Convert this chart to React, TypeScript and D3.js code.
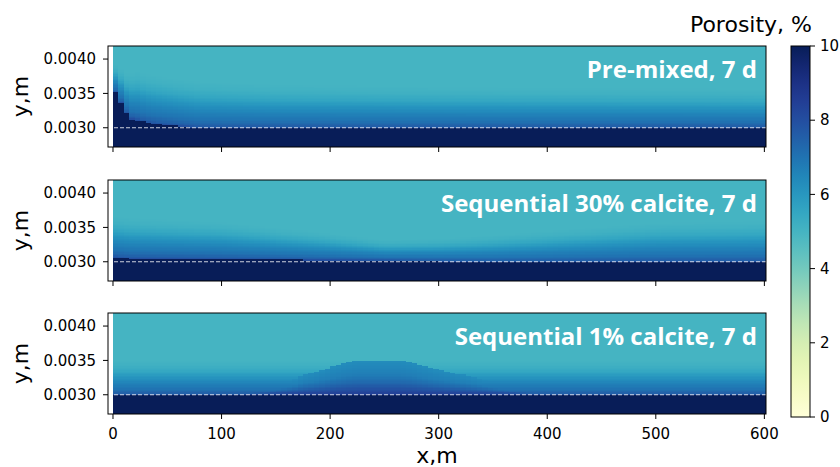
import React, { useRef, useEffect } from 'react';
import * as d3 from 'd3';

// ---- chart data ----
const xTicks = [0, 100, 200, 300, 400, 500, 600];
const yTicks = [0.003, 0.0035, 0.004];
const cbTicks = [0, 2, 4, 6, 8, 10];
const titles = ['Pre-mixed, 7 d', 'Sequential 30% calcite, 7 d', 'Sequential 1% calcite, 7 d'];
const interfaceY = 0.003;

// top of the fully cemented zone (porosity 10 %) along x, per panel
const front1X = [0, 3, 7, 11, 15, 25, 34, 45, 65, 80, 600];
const front1Y = [0.0036, 0.0035, 0.00338, 0.00326, 0.00314, 0.0031, 0.00307, 0.00305, 0.00302, 0.003, 0.003];
const front2X = [0, 15, 100, 250, 350, 600];
const front2Y = [0.00307, 0.00305, 0.00304, 0.00302, 0.003, 0.003];
const front3X = [0, 600];
const front3Y = [0.003, 0.003];

// thickness factor of the transition band above the front, per panel
const band1X = [0, 10, 20, 60, 150, 300, 600];
const band1S = [0.6, 0.9, 1.2, 1.15, 1.05, 1.0, 0.95];
const band2X = [0, 100, 200, 250, 300, 400, 500, 600];
const band2S = [1.0, 0.9, 0.65, 0.5, 0.55, 0.75, 0.95, 1.0];
const band3X = [0, 600];
const band3S = [0.85, 0.85];

// porosity profile vs height above the front
const profileD = [0, 0.00003, 0.0001, 0.0002, 0.0003, 0.0004, 0.0005, 0.0006];
const profileV = [8.0, 7.5, 7.0, 6.6, 6.1, 5.5, 5.15, 5.0];

// raised zone in the 1 % calcite case: its top along x ...
const bumpX = [0, 110, 126, 145, 155, 166, 175, 186, 194, 206, 215, 224, 264, 275, 286, 295, 310, 330, 351, 377, 400, 410, 600];
const bumpY = [0.003, 0.003, 0.00309, 0.00314, 0.00319, 0.00323, 0.00329, 0.00333, 0.00337, 0.00343, 0.00347, 0.0035, 0.0035, 0.00347, 0.00342, 0.00338, 0.00333, 0.00327, 0.0032, 0.00311, 0.00303, 0.003, 0.003];
// ... and its porosity vs relative height inside it
const bumpU = [0, 0.15, 0.35, 0.6, 1];
const bumpV = [8.6, 8.0, 7.3, 6.7, 6.3];

// ---- layout ----
const W = 840, H = 467;
const left = 108, right = 766;
const panelTops = [46, 180, 313];
const panelH = 101;
const cb = { x: 791, w: 19, top: 46, bottom: 417 };

const lin = (xs: number[], ys: number[]) => d3.scaleLinear().domain(xs).range(ys).clamp(true);

const panels = [
  { front: lin(front1X, front1Y), band: lin(band1X, band1S), bump: null as any },
  { front: lin(front2X, front2Y), band: lin(band2X, band2S), bump: null as any },
  { front: lin(front3X, front3Y), band: lin(band3X, band3S), bump: lin(bumpX, bumpY) },
];
const profile = lin(profileD, profileV);
const bumpProfile = lin(bumpU, bumpV);

const color = d3.scaleSequential(d3.interpolateYlGnBu).domain([0, 10]);
const xScale = d3.scaleLinear().domain([-4.6, 601.5]).range([left, right]);
const yDomain = [0.00272, 0.00419];

const dx = 5, dy = 0.00002;

function buildCells(p: number) {
  const pan = panels[p];
  const cells: { x0: number; x1: number; y0: number; y1: number; v: number }[] = [];
  for (let x0 = 0; x0 < 602; x0 += dx) {
    const xc = x0 + dx / 2;
    const f = pan.front(xc);
    const s = pan.band(xc);
    const bt = pan.bump ? pan.bump(xc) : f;
    for (let y0 = yDomain[0]; y0 < yDomain[1]; y0 += dy) {
      const yc = y0 + dy / 2;
      let v;
      if (yc <= f) v = 10;
      else {
        v = profile((yc - f) / s);
        if (bt > f + 0.00001 && yc <= bt) v = Math.max(v, bumpProfile((yc - f) / (bt - f)));
      }
      cells.push({ x0, x1: x0 + dx, y0, y1: y0 + dy, v });
    }
  }
  return cells;
}

export default function App() {
  const svgRef = useRef<SVGSVGElement>(null);

  useEffect(() => {
    const svg = d3.select(svgRef.current);
    panelTops.forEach((top, p) => {
      const yScale = d3.scaleLinear().domain(yDomain).range([top + panelH, top]);
      svg.select(`.cells-${p}`)
        .selectAll('rect')
        .data(buildCells(p))
        .join('rect')
        .attr('x', (d: any) => xScale(d.x0))
        .attr('y', (d: any) => yScale(d.y1))
        .attr('width', (d: any) => xScale(d.x1) - xScale(d.x0) + 0.3)
        .attr('height', (d: any) => yScale(d.y0) - yScale(d.y1) + 0.3)
        .attr('fill', (d: any) => color(d.v));
    });
  }, []);

  const tickFont = { fontFamily: 'DejaVu Sans', fontSize: 15, fill: '#000' };
  const cbScale = d3.scaleLinear().domain([0, 10]).range([cb.bottom, cb.top]);
  const gradStops = d3.range(0, 1.0001, 0.05);

  return (
    <svg ref={svgRef} width={W} height={H} style={{ position: 'absolute', left: 0, top: 0 }}>
      <defs>
        {panelTops.map((top, p) => (
          <clipPath id={`clip-${p}`} key={p}>
            <rect x={left} y={top} width={right - left} height={panelH} />
          </clipPath>
        ))}
        <linearGradient id="cbgrad" x1="0" y1="1" x2="0" y2="0">
          {gradStops.map((t) => (
            <stop key={t} offset={t} stopColor={d3.interpolateYlGnBu(t)} />
          ))}
        </linearGradient>
      </defs>
      <rect width={W} height={H} fill="#fff" />
      {panelTops.map((top, p) => {
        const yScale = d3.scaleLinear().domain(yDomain).range([top + panelH, top]);
        return (
          <g key={p}>
            <g className={`cells-${p}`} clipPath={`url(#clip-${p})`} shapeRendering="crispEdges" />
            <line x1={left} x2={right} y1={yScale(interfaceY)} y2={yScale(interfaceY)}
              stroke="#fff" strokeOpacity={0.8} strokeWidth={1} strokeDasharray="4,2" />
            <rect x={left} y={top} width={right - left} height={panelH} fill="none" stroke="#000" strokeWidth={1} />
            {yTicks.map((t) => (
              <g key={t}>
                <line x1={left - 5} x2={left} y1={yScale(t)} y2={yScale(t)} stroke="#000" />
                <text x={left - 12} y={yScale(t)} dy="0.35em" textAnchor="end" {...tickFont}>{t.toFixed(4)}</text>
              </g>
            ))}
            {xTicks.map((t) => (
              <g key={t}>
                <line x1={xScale(t)} x2={xScale(t)} y1={top + panelH} y2={top + panelH + 5} stroke="#000" />
                {p === 2 && (
                  <text x={xScale(t)} y={439} textAnchor="middle" {...tickFont}>{t}</text>
                )}
              </g>
            ))}
            <text x={757} y={top + 32} textAnchor="end" fill="#fff"
              fontFamily="Open Sans" fontWeight={700} fontSize={24}>{titles[p]}</text>
            <text transform={`translate(28,${top + panelH / 2}) rotate(-90)`} textAnchor="middle"
              fontFamily="DejaVu Sans" fontSize={22}>y,m</text>
          </g>
        );
      })}
      <text x={(left + right) / 2} y={463} textAnchor="middle" fontFamily="DejaVu Sans" fontSize={22}>x,m</text>
      <rect x={cb.x} y={cb.top} width={cb.w} height={cb.bottom - cb.top} fill="url(#cbgrad)" stroke="#000" strokeWidth={1} />
      {cbTicks.map((t) => (
        <g key={t}>
          <line x1={cb.x + cb.w} x2={cb.x + cb.w + 5} y1={cbScale(t)} y2={cbScale(t)} stroke="#000" />
          <text x={cb.x + cb.w + 10} y={cbScale(t)} dy="0.35em" {...tickFont}>{t}</text>
        </g>
      ))}
      <text x={812} y={32} textAnchor="end" fontFamily="DejaVu Sans" fontSize={22}>Porosity, %</text>
    </svg>
  );
}
